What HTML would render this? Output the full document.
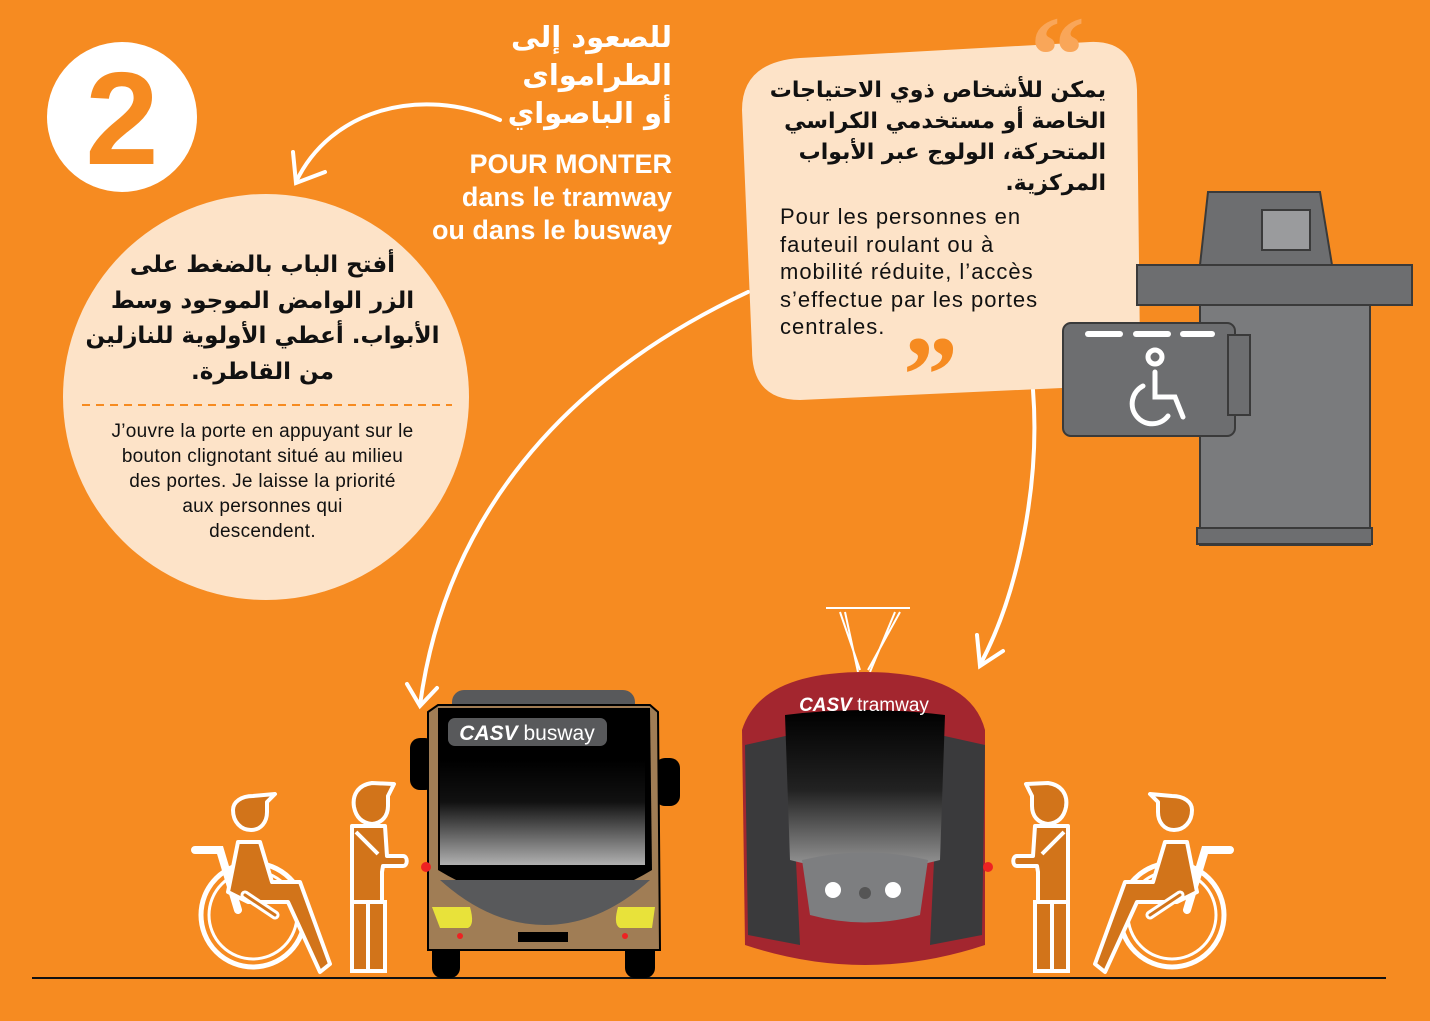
<!DOCTYPE html>
<html><head><meta charset="utf-8"><style>
html,body{margin:0;padding:0}
body{width:1430px;height:1021px;overflow:hidden;background:#F68B21;font-family:"Liberation Sans","Noto Sans CJK SC",sans-serif}
svg{position:absolute;left:0;top:0}
.t{position:absolute;color:#fff;font-weight:bold;white-space:nowrap}
.ar{font-family:"DejaVu Sans",sans-serif}
</style></head><body>
<svg width="1430" height="1021" viewBox="0 0 1430 1021">
<defs>
<linearGradient id="win" x1="0" y1="0" x2="0" y2="1"><stop offset="0" stop-color="#000"/><stop offset="0.4" stop-color="#111"/><stop offset="1" stop-color="#b0b0b0"/></linearGradient>
<linearGradient id="twin" x1="0" y1="0" x2="0" y2="1"><stop offset="0" stop-color="#000"/><stop offset="0.5" stop-color="#222"/><stop offset="1" stop-color="#9a9a9a"/></linearGradient>
<g id="person">
<path d="M372,783 c-14,2 -20,12 -18,24 c2,10 8,16 18,17 c10,-1 16,-8 16,-18 l0,-10 l6,-12 z" fill="#D2741A" stroke="#fff" stroke-width="4" stroke-linejoin="round"/>
<path d="M352,826 l33,0 l2,30 l16,0 c5,0 5,10 0,10 l-20,0 l-1,6 l0,30 l-30,0 z" fill="#D2741A" stroke="#fff" stroke-width="4" stroke-linejoin="round"/>
<path d="M356,832 l22,22" stroke="#fff" stroke-width="4"/>
<path d="M352,902 l33,0 l0,69 l-33,0 z M368,902 l0,69" fill="#D2741A" stroke="#fff" stroke-width="4"/>
</g>
<g id="wc">
<circle cx="253" cy="915" r="52" fill="none" stroke="#fff" stroke-width="5"/>
<circle cx="253" cy="915" r="44" fill="none" stroke="#fff" stroke-width="3"/>
<path d="M195,850 l25,0 l18,60" fill="none" stroke="#fff" stroke-width="8" stroke-linecap="round"/>
<path d="M233,810 c0,12 8,20 18,20 c10,0 16,-8 16,-18 l0,-10 l8,-8 l-22,2 c-12,0 -20,6 -20,14 z" fill="#D2741A" stroke="#fff" stroke-width="4" stroke-linejoin="round"/>
<path d="M238,842 l22,0 l12,40 l28,0 l30,82 l-10,8 l-32,-70 l-40,0 l-20,-10 z" fill="#D2741A" stroke="#fff" stroke-width="4" stroke-linejoin="round"/>
<path d="M245,895 l30,20" stroke="#fff" stroke-width="9" stroke-linecap="round"/>
<path d="M245,895 l30,20" stroke="#D2741A" stroke-width="3" stroke-linecap="round"/>
</g>
</defs>
<circle cx="122" cy="117" r="75" fill="#fff"/>
<text x="122" y="164" text-anchor="middle" font-family="Liberation Sans" font-weight="bold" font-size="132" fill="#F68B21">2</text>
<g fill="none" stroke="#fff" stroke-width="4" stroke-linecap="round">
<path d="M500,120 C420,85 330,110 296,182"/><path d="M293,152 L296,183 L325,172"/>
<path d="M748,292 C560,380 445,520 420,705"/><path d="M407,684 L420,706 L437,688"/>
<path d="M1033,390 C1040,480 1020,590 980,665"/><path d="M977,635 L980,666 L1003,651"/>
</g>
<circle cx="266" cy="397" r="203" fill="#FDE3C8"/>
<line x1="82" y1="405" x2="452" y2="405" stroke="#F68B21" stroke-width="2" stroke-dasharray="8,6"/>
<path d="M800,58 L1090,42 Q1135,40 1137,90 L1140,350 Q1140,385 1105,386 L800,400 Q752,400 752,350 L742,110 Q742,62 800,58 Z" fill="#FDE3C8"/>
<text x="1030" y="92" font-family="Liberation Serif" font-weight="bold" font-size="110" fill="#F9A659">“</text>
<text x="903" y="412" font-family="Liberation Serif" font-weight="bold" font-size="110" fill="#F68B21">”</text>
<g stroke="#3a3a3a" stroke-width="2">
<path d="M1208,192 L1320,192 L1332,265 L1200,265 Z" fill="#6D6E70"/>
<rect x="1262" y="210" width="48" height="40" fill="#9a9b9d"/>
<rect x="1137" y="265" width="275" height="40" fill="#6D6E70"/>
<rect x="1200" y="305" width="170" height="240" fill="#7A7B7D"/>
<rect x="1197" y="528" width="175" height="16" fill="#6D6E70"/>
<rect x="1063" y="323" width="172" height="113" rx="8" fill="#6D6E70"/>
<rect x="1228" y="335" width="22" height="80" fill="#6D6E70"/>
</g>
<g fill="#fff"><rect x="1085" y="331" width="38" height="6" rx="3"/><rect x="1133" y="331" width="38" height="6" rx="3"/><rect x="1180" y="331" width="35" height="6" rx="3"/></g>
<g fill="none" stroke="#fff" stroke-width="5" stroke-linecap="round">
<circle cx="1155" cy="357" r="7"/><path d="M1155,372 l0,25 l20,0 l8,20"/><path d="M1143,386 a20,20 0 1 0 25,30"/>
</g>
<line x1="32" y1="978" x2="1386" y2="978" stroke="#111" stroke-width="2"/>
<rect x="452" y="690" width="183" height="30" rx="12" fill="#58595B"/>
<rect x="410" y="738" width="25" height="52" rx="10" fill="#000"/>
<rect x="655" y="758" width="25" height="48" rx="10" fill="#000"/>
<rect x="432" y="935" width="28" height="43" rx="10" fill="#000"/>
<rect x="625" y="935" width="30" height="43" rx="10" fill="#000"/>
<path d="M428,712 L438,705 L650,705 L658,712 L660,950 L428,950 Z" fill="#A07D55" stroke="#000" stroke-width="2"/>
<path d="M438,708 L650,708 L652,870 Q545,935 438,870 Z" fill="#000"/>
<rect x="440" y="760" width="205" height="105" fill="url(#win)"/>
<path d="M440,880 L650,880 Q600,925 545,925 Q490,925 440,880 Z" fill="#58595B"/>
<rect x="448" y="718" width="159" height="28" rx="7" fill="#58595B"/>
<text x="527" y="740" text-anchor="middle" font-family="Liberation Sans" font-size="21" fill="#fff"><tspan font-weight="bold" font-style="italic">CASV</tspan> busway</text>
<path d="M432,907 L470,907 Q475,925 468,928 L440,928 Z" fill="#E8E23A"/>
<path d="M655,907 L618,907 Q613,925 620,928 L652,928 Z" fill="#E8E23A"/>
<rect x="518" y="932" width="50" height="10" fill="#000"/>
<circle cx="460" cy="936" r="3" fill="#e22"/><circle cx="625" cy="936" r="3" fill="#e22"/>
<circle cx="426" cy="867" r="5" fill="#e22"/>
<g stroke="#fff" stroke-width="2" fill="none"><path d="M826,608 L910,608 M845,612 L858,672 M895,612 L870,672 M840,612 L860,670 M900,612 L868,670"/></g>
<path d="M742,730 Q760,672 865,672 Q970,672 985,730 L985,945 Q865,985 745,945 Z" fill="#A3262F"/>
<path d="M745,745 L790,735 L800,945 L748,935 Z" fill="#3a3a3c"/>
<path d="M985,745 L940,735 L930,945 L982,935 Z" fill="#3a3a3c"/>
<path d="M785,715 Q865,705 945,715 L940,860 Q865,880 790,860 Z" fill="url(#twin)"/>
<path d="M802,860 Q865,845 928,860 L920,915 Q865,930 810,915 Z" fill="#7d7e80"/>
<circle cx="833" cy="890" r="8" fill="#fff"/><circle cx="893" cy="890" r="8" fill="#fff"/><circle cx="865" cy="893" r="6" fill="#555"/>
<text x="864" y="711" text-anchor="middle" font-family="Liberation Sans" font-size="19" fill="#fff"><tspan font-weight="bold" font-style="italic">CASV</tspan> tramway</text>
<circle cx="988" cy="867" r="5" fill="#e22"/>
<use href="#person"/>
<use href="#wc"/>
<use href="#person" transform="translate(1420,0) scale(-1,1)"/>
<use href="#wc" transform="translate(1425,0) scale(-1,1)"/>
</svg>
<div class="t ar" style="right:758px;top:18px;font-size:29px;line-height:38px;text-align:right;direction:rtl">للصعود إلى<br>الطراموای<br>أو الباصواي</div>
<div class="t" style="right:758px;top:148px;font-size:27px;line-height:33px;text-align:right">POUR MONTER<br>dans le tramway<br>ou dans le busway</div>
<div class="t ar" style="left:60px;width:405px;top:248px;font-size:23px;line-height:35.5px;text-align:center;direction:rtl;color:#111">أفتح الباب بالضغط على<br>الزر الوامض الموجود وسط<br>الأبواب. أعطي الأولوية للنازلين<br>من القاطرة.</div>
<div class="t" style="left:60px;width:405px;top:419px;font-size:19px;line-height:25px;text-align:center;color:#111;font-weight:normal;letter-spacing:0.3px">J’ouvre la porte en appuyant sur le<br>bouton clignotant situé au milieu<br>des portes. Je laisse la priorité<br>aux personnes qui<br>descendent.</div>
<div class="t ar" style="right:324px;top:75px;font-size:22px;line-height:31px;text-align:right;direction:rtl;color:#111">يمكن للأشخاص ذوي الاحتياجات<br>الخاصة أو مستخدمي الكراسي<br>المتحركة، الولوج عبر الأبواب<br>المركزية.</div>
<div class="t" style="left:780px;top:203px;font-size:22px;line-height:27.5px;color:#111;font-weight:normal;letter-spacing:1px">Pour les personnes en<br>fauteuil roulant ou à<br>mobilité réduite, l’accès<br>s’effectue par les portes<br>centrales.</div>
</body></html>
